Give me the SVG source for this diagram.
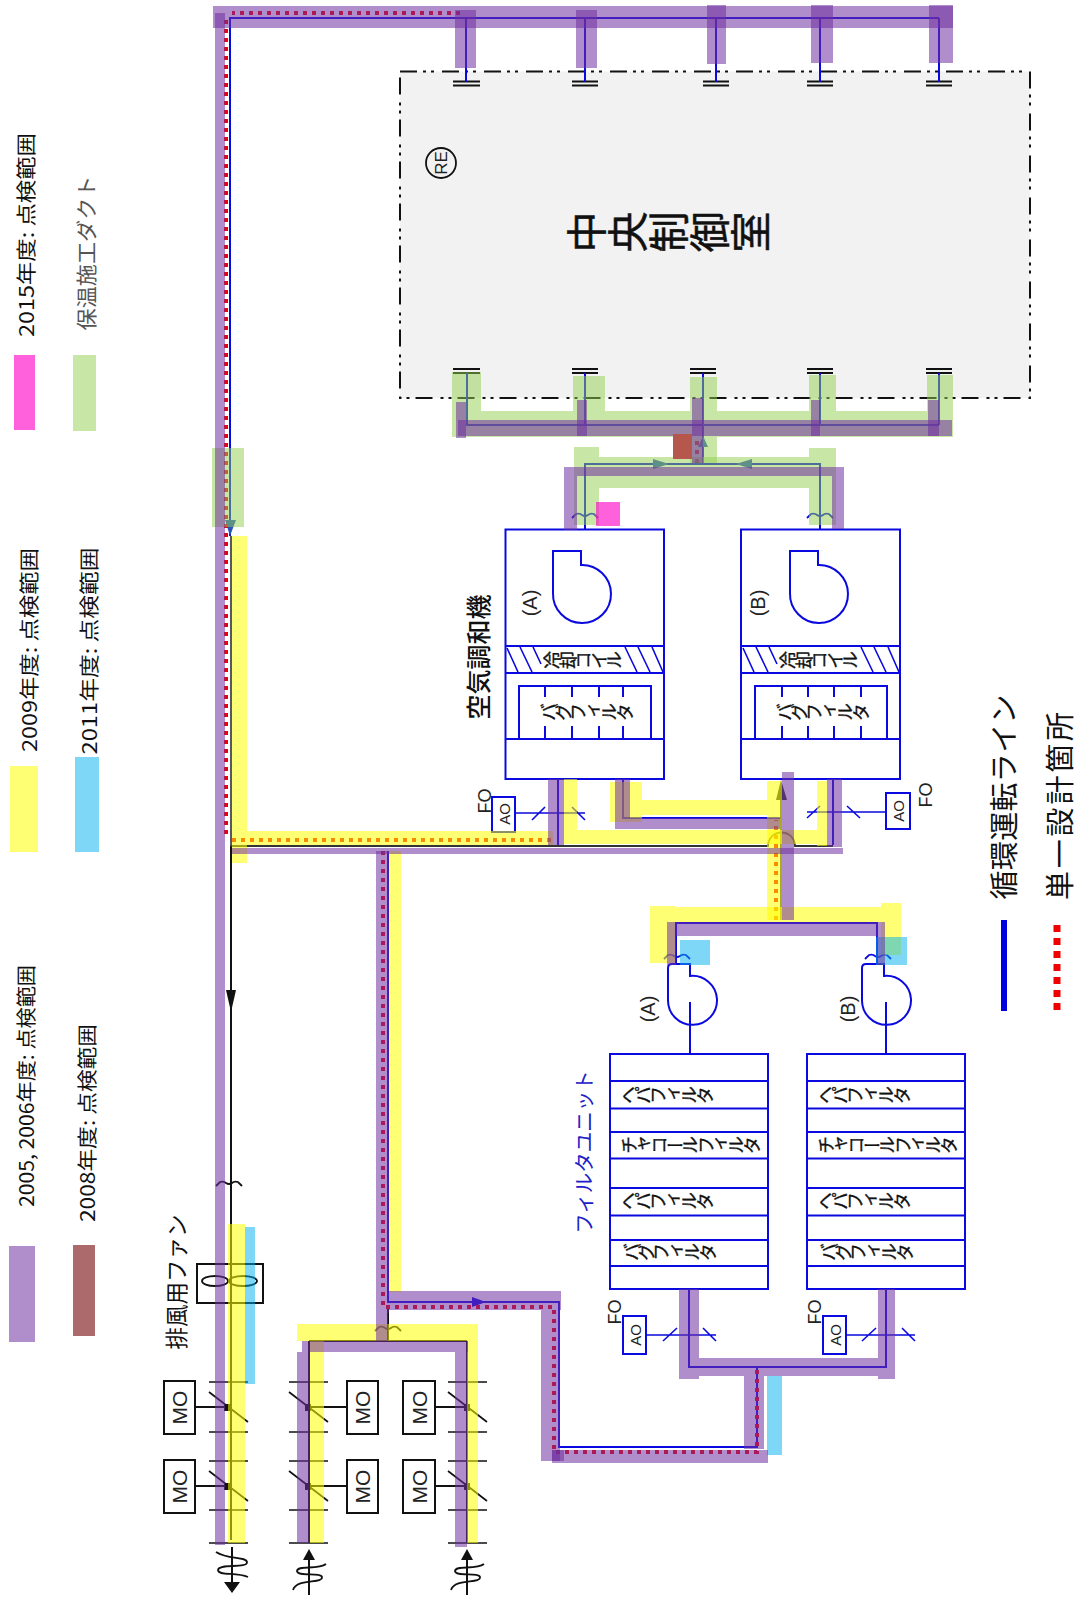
<svg xmlns="http://www.w3.org/2000/svg" width="1078" height="1600" viewBox="0 0 1078 1600">
<style>
text{font-family:"Noto Sans CJK JP","Liberation Sans",sans-serif;text-anchor:middle;dominant-baseline:central;fill:#111}
.lat{font-family:"Liberation Sans","Noto Sans CJK JP",sans-serif;fill:#222}
.v{writing-mode:vertical-rl;font-size:18px;letter-spacing:-2.600px;fill:#111;stroke:#111;stroke-width:.35px}
.b{fill:#fff;stroke:#0a0ae0;stroke-width:2}
.bl{fill:none;stroke:#0a0ae0;stroke-width:2}
.bl1{fill:none;stroke:#0a0ae0;stroke-width:1.6}
.k{fill:none;stroke:#111;stroke-width:2}
.kb{fill:#fff;stroke:#111;stroke-width:2}
.red{fill:none;stroke:#f00000;stroke-width:4;stroke-dasharray:4 5}
.p{fill:#7030a0;fill-opacity:.55}
.y{fill:#ffff00;fill-opacity:.55}
.g{fill:#92d050;fill-opacity:.5}
.c{fill:#00b0f0;fill-opacity:.5}
.br{fill:#b5574c}
.pk{fill:#ff00c8;fill-opacity:.62}
</style>
<defs>
<path id="brk" d="M-13,3 L-9,-1 Q-5,-2 -3,0 Q0,2 3,0 Q5,-2 9,-1 L13,3" fill="none" stroke-width="1.800"/>
<path id="fan" d="M0,42 V0 H28 V14 A29,29 0 1 1 0,42 Z" class="b"/>
<path id="fan2" d="M0,36 V4 Q0,0 4,0 H22 V12 A24.5,24.5 0 1 1 0,36 Z" class="b"/>
<g id="coil" class="bl1">
<path d="M507,648 L518,672 M520,647 L532,672 M533,647 L541,664 M625,647 L637,672 M638,647 L650,672 M652,647 L663,672"/>
</g>
<g id="hepa"><rect x="610" y="1054" width="158" height="235" class="b"/><path class="bl" d="M610,1081H768M610,1108.500H768M610,1132H768M610,1158.500H768M610,1188H768M610,1215.500H768M610,1240H768M610,1266H768"/></g>
<g id="damper" class="k" style="stroke-width:1.700">
<path d="M-19,0H20M-19,50H20M-19,79H20M-19,128H20M-19,161H20M-19,10L20,40M-19,89L20,119"/>
</g>
</defs>

<g id="legend">
<rect class="pk" x="14" y="355" width="21" height="75"/><text transform="translate(25,235) rotate(-90)" font-size="20" textLength="204" lengthAdjust="spacingAndGlyphs">2015年度: 点検範囲</text>
<rect class="g" x="73" y="355" width="23" height="76"/><text transform="translate(85,253) rotate(-90)" font-size="21" textLength="155" lengthAdjust="spacingAndGlyphs" style="fill:#555">保温施工ダクト</text>
<rect class="y" x="10" y="766" width="28" height="86"/><text transform="translate(28,650) rotate(-90)" font-size="20" textLength="204" lengthAdjust="spacingAndGlyphs">2009年度: 点検範囲</text>
<rect class="c" x="75" y="757" width="24" height="95"/><text transform="translate(88,651) rotate(-90)" font-size="20" textLength="207" lengthAdjust="spacingAndGlyphs">2011年度: 点検範囲</text>
<rect class="p" x="9" y="1246" width="26" height="96"/><text transform="translate(25,1086) rotate(-90)" font-size="20" textLength="242" lengthAdjust="spacingAndGlyphs">2005, 2006年度: 点検範囲</text>
<rect x="73" y="1245" width="22" height="91" fill="#ad6a6c"/><text transform="translate(86,1123) rotate(-90)" font-size="20" textLength="198" lengthAdjust="spacingAndGlyphs">2008年度: 点検範囲</text>
<path d="M1004,920V1011" stroke="#0000e0" stroke-width="6"/>
<text transform="translate(1002,797) rotate(-90)" font-size="29" textLength="205">循環運転ライン</text>
<path d="M1057,925V1013" stroke="#f00000" stroke-width="7" stroke-dasharray="7 6"/>
<text transform="translate(1058,806) rotate(-90)" font-size="29" textLength="188">単一設計箇所</text>
</g>

<g id="central-room">
<rect x="400" y="71.500" width="630" height="326.500" fill="#f2f2f2" stroke="#111" stroke-width="2" stroke-dasharray="17 6 3 5 3 8"/>
<circle cx="441" cy="163" r="15" fill="none" stroke="#111" stroke-width="1.800"/>
<text class="lat" transform="translate(441,163) rotate(-90)" font-size="17">RE</text>
<text class="v" transform="translate(668,232) rotate(-90)" style="font-size:41px;letter-spacing:0;stroke-width:.5px">中央制御室</text>
<path class="k" style="stroke-width:1.800" d="M453,81.500H480M453,85.500H480M572,81.500H598M572,85.500H598M703,81.500H729M703,85.500H729M807,81.500H833M807,85.500H833M926,81.500H952M926,85.500H952M453,369H480M453,373H480M572,369H598M572,373H598M690,369H716M690,373H716M807,369H833M807,373H833M926,369H952M926,373H952"/>
</g>

<g id="ahu-a">
<rect class="b" x="505.500" y="529.500" width="158.500" height="249.500"/>
<path class="bl" d="M505.500,646H664M505.500,673H664M505.500,739H664M519,739V686H651V739M545,686V697M572,686V697M599,686V697M623,686V697M545,726V739M572,726V739M599,726V739M623,726V739"/>
<use href="#coil"/>
<use href="#fan" x="553" y="551"/>
<text class="lat" transform="translate(530,603) rotate(-90)" font-size="20">(A)</text>
<text class="v" transform="translate(582,660) rotate(-90)">冷却コイル</text>
<text class="v" transform="translate(585,712) rotate(-90)">バグフィルタ</text>
<text transform="translate(477,657) rotate(-90)" font-size="25" font-weight="500">空気調和機</text>
<rect x="492" y="797" width="23" height="35" class="b"/>
<text class="lat" transform="translate(504,814) rotate(-90)" font-size="15">AO</text>
<text class="lat" transform="translate(485,801) rotate(-90)" font-size="18">FO</text>
</g>

<g id="ahu-b">
<rect class="b" x="741" y="529.500" width="159" height="249.500"/>
<path class="bl" d="M741,646H900M741,673H900M741,739H900M755,739V686H887V739M782,686V697M808,686V697M834,686V697M861,686V697M782,726V739M808,726V739M834,726V739M861,726V739"/>
<use href="#coil" x="236"/>
<use href="#fan" x="790" y="551"/>
<text class="lat" transform="translate(758,603) rotate(-90)" font-size="20">(B)</text>
<text class="v" transform="translate(818,660) rotate(-90)">冷却コイル</text>
<text class="v" transform="translate(821,712) rotate(-90)">バグフィルタ</text>
<rect x="886" y="793" width="24" height="36" class="b"/>
<text class="lat" transform="translate(898,811) rotate(-90)" font-size="15">AO</text>
<text class="lat" transform="translate(926,795) rotate(-90)" font-size="18">FO</text>
</g>

<g id="filter-unit-a">
<use href="#hepa"/>
<use href="#fan2" x="668" y="964"/>
<text class="lat" transform="translate(648,1009) rotate(-90)" font-size="20">(A)</text>
<text class="v" transform="translate(665,1095) rotate(-90)">ヘパフィルタ</text>
<text class="v" transform="translate(689,1145) rotate(-90)">チャコールフィルタ</text>
<text class="v" transform="translate(665,1201) rotate(-90)">ヘパフィルタ</text>
<text class="v" transform="translate(668,1252) rotate(-90)">バグフィルタ</text>
<text transform="translate(583,1152) rotate(-90)" font-size="20.500" style="fill:#2020c8">フィルタユニット</text>
<rect x="623" y="1316" width="23" height="38" class="b"/>
<text class="lat" transform="translate(635,1335) rotate(-90)" font-size="15">AO</text>
<text class="lat" transform="translate(615,1312) rotate(-90)" font-size="18">FO</text>
</g>

<g id="filter-unit-b">
<use href="#hepa" x="197"/>
<use href="#fan2" x="862" y="964"/>
<text class="lat" transform="translate(848,1009) rotate(-90)" font-size="20">(B)</text>
<text class="v" transform="translate(862,1095) rotate(-90)">ヘパフィルタ</text>
<text class="v" transform="translate(886,1145) rotate(-90)">チャコールフィルタ</text>
<text class="v" transform="translate(862,1201) rotate(-90)">ヘパフィルタ</text>
<text class="v" transform="translate(865,1252) rotate(-90)">バグフィルタ</text>
<rect x="823" y="1316" width="23" height="38" class="b"/>
<text class="lat" transform="translate(835,1335) rotate(-90)" font-size="15">AO</text>
<text class="lat" transform="translate(815,1312) rotate(-90)" font-size="18">FO</text>
</g>

<g id="exhaust-fan">
<rect class="kb" x="197" y="1264" width="66" height="39"/>
<ellipse cx="215" cy="1281" rx="13" ry="5" fill="none" stroke="#111" stroke-width="1.800"/>
<ellipse cx="243" cy="1281" rx="14" ry="5" fill="none" stroke="#111" stroke-width="1.800"/>
<text transform="translate(175,1282) rotate(-90)" font-size="22.500">排風用ファン</text>
</g>

<g id="dampers-exhaust">
<use href="#damper" x="228" y="1382"/>
<rect class="kb" x="164" y="1381" width="31" height="53"/><text class="lat" transform="translate(179.500,1407.500) rotate(-90)" font-size="21">MO</text>
<rect class="kb" x="164" y="1460" width="31" height="53"/><text class="lat" transform="translate(179.500,1486.500) rotate(-90)" font-size="21">MO</text>
<path class="k" d="M195,1407H227M195,1486H227"/><rect x="224" y="1404" width="6" height="7" fill="#111"/><rect x="224" y="1483" width="6" height="7" fill="#111"/>
</g>
<g id="dampers-left">
<use href="#damper" x="308" y="1382"/>
<rect class="kb" x="347" y="1381" width="31" height="53"/><text class="lat" transform="translate(362.500,1407.500) rotate(-90)" font-size="21">MO</text>
<rect class="kb" x="347" y="1460" width="31" height="53"/><text class="lat" transform="translate(362.500,1486.500) rotate(-90)" font-size="21">MO</text>
<path class="k" d="M308,1407H347M308,1486H347"/><rect x="305" y="1404" width="6" height="7" fill="#111"/><rect x="305" y="1483" width="6" height="7" fill="#111"/>
</g>
<g id="dampers-right">
<use href="#damper" x="467" y="1382"/>
<rect class="kb" x="403" y="1381" width="32" height="53"/><text class="lat" transform="translate(419,1407.500) rotate(-90)" font-size="21">MO</text>
<rect class="kb" x="403" y="1460" width="32" height="53"/><text class="lat" transform="translate(419,1486.500) rotate(-90)" font-size="21">MO</text>
<path class="k" d="M435,1407H467M435,1486H467"/><rect x="464" y="1404" width="6" height="7" fill="#111"/><rect x="464" y="1483" width="6" height="7" fill="#111"/>
</g>

<g id="connectors">
<path class="bl" d="M230,536V18H939M466,18V82M585,18V82M716,18V82M820,18V82M939,18V82"/>
<path class="bl" d="M467,373V425H939M585,373V425M703,373V464M820,373V425M939,373V425M585,529V464H820V529"/>
<path class="bl" d="M558,779V845M623,779V818H781M833,779V845"/>
<path class="bl" d="M676,964V923H877V964M690,1002V1054M886,1002V1054"/>
<path class="bl" d="M689,1289V1367H886V1289M757,1367V1447H559V1302H388V851"/>
<path class="bl1" d="M515,813H585M532,820L545,807M572,807L585,820M807,812H886M807,818L820,806M847,806L860,818M646,1335H716M663,1341L677,1328M703,1328L716,1341M846,1335H915M862,1341L876,1328M902,1328L915,1341"/>
<use href="#brk" x="585" y="515" stroke="#0a0ae0"/><use href="#brk" x="820" y="515" stroke="#0a0ae0"/>
<use href="#brk" x="677" y="956" stroke="#0a0ae0"/><use href="#brk" x="878" y="956" stroke="#0a0ae0"/>
<path class="k" d="M231,846V1540M232,1547V1585M309,1341V1543M309,1556V1595M467,1341V1543M467,1556V1595M309,1341H467M388,1306V1341"/>
<path d="M231,536V846" fill="none" stroke="#445" stroke-width="1.800"/>
<path d="M231,846H768A13.500,13.500 0 0 1 795,846H833M781,785V920" fill="none" stroke="#333" stroke-width="1.800"/>
<use href="#brk" x="229" y="1183" stroke="#111"/><use href="#brk" x="388" y="1328" stroke="#111"/>
<path d="M226,990H236L231,1012Z" fill="#111"/>
<path d="M224,1582H240L232,1593Z" fill="#111"/><path d="M303,1560H315L309,1549Z" fill="#111"/><path d="M461,1560H473L467,1549Z" fill="#111"/>
<path class="k" style="stroke-width:1.800" d="M216,1552C228,1560 246,1556 247,1562C248,1569 218,1563 218,1570C218,1576 236,1572 248,1577"/>
<path class="k" style="stroke-width:1.800" d="M293,1588C297,1576 323,1582 322,1575C321,1570 297,1575 297,1569C297,1563 318,1568 326,1562" transform="translate(0,2)"/>
<path class="k" style="stroke-width:1.800" d="M451,1588C455,1576 481,1582 480,1575C479,1570 455,1575 455,1569C455,1563 476,1568 484,1562" transform="translate(0,2)"/>
<path d="M225,520H236L230,536Z" fill="#2a50c0"/>
<path d="M653,459L669,464L653,469Z" fill="#2a50c0"/><path d="M752,459L736,464L752,469Z" fill="#2a50c0"/>
<path d="M698,447H708L703,436Z" fill="#2a50c0"/>
<path d="M472,1297L486,1302L472,1307Z" fill="#0a0ae0"/>
<path d="M776,800H787L781,780Z" fill="#333"/>
<path class="red" d="M460,13H232M226,20V838M232,840H555"/>
<path class="red" d="M776,920V820"/>
<path class="red" d="M697,463V438"/>
<path class="red" d="M383,851V1307H554V1452H757V1367"/>
</g>

<g id="highlights">
<rect class="y" x="232" y="536" width="15" height="327"/>
<rect class="y" x="247" y="831" width="306" height="14"/><rect class="y" x="564" y="779" width="13" height="65"/><rect class="y" x="577" y="830" width="240" height="14"/><rect class="y" x="817" y="781" width="10" height="65"/>
<rect class="y" x="610" y="782" width="32" height="40"/><rect class="y" x="642" y="800" width="125" height="15"/>
<rect class="y" x="767" y="781" width="15" height="139"/>
<rect class="y" x="650" y="906" width="25" height="57"/><rect class="y" x="675" y="907" width="206" height="15"/><rect class="y" x="881" y="903" width="20" height="52"/>
<rect class="y" x="389" y="851" width="12" height="441"/>
<rect class="y" x="297" y="1324" width="181" height="17"/>
<rect class="y" x="310" y="1341" width="14" height="202"/><rect class="y" x="467" y="1341" width="11" height="202"/>
<rect class="y" x="228" y="1224" width="17" height="319"/>
<rect class="c" x="680" y="940" width="30" height="25"/><rect class="c" x="876" y="937" width="31" height="28"/>
<rect class="c" x="767" y="1376" width="15" height="79"/><rect class="c" x="245" y="1227" width="10" height="157"/>
<rect class="g" x="452" y="372" width="29" height="65"/><rect class="g" x="573" y="376" width="32" height="61"/><rect class="g" x="690" y="377" width="27" height="86"/><rect class="g" x="809" y="375" width="27" height="62"/><rect class="g" x="927" y="375" width="26" height="62"/>
<rect class="g" x="481" y="411" width="92" height="26"/><rect class="g" x="605" y="411" width="85" height="26"/><rect class="g" x="717" y="411" width="92" height="26"/><rect class="g" x="836" y="411" width="91" height="26"/>
<rect class="g" x="574" y="447" width="25" height="78"/><rect class="g" x="809" y="448" width="27" height="77"/><rect class="g" x="599" y="457" width="210" height="31"/>
<rect class="g" x="212" y="448" width="32" height="79"/>
<rect class="p" x="213" y="6" width="740" height="22"/>
<rect class="p" x="455" y="10" width="21" height="58"/><rect class="p" x="576" y="10" width="21" height="58"/><rect class="p" x="707" y="5" width="19" height="59"/><rect class="p" x="811" y="5" width="22" height="58"/><rect class="p" x="929" y="5" width="24" height="58"/>
<rect class="p" x="215" y="13" width="10" height="1532"/>
<rect class="p" x="458" y="420" width="494" height="16"/>
<rect class="p" x="456" y="402" width="10" height="36"/><rect class="p" x="577" y="400" width="10" height="36"/><rect class="p" x="692" y="398" width="11" height="65"/><rect class="p" x="811" y="400" width="9" height="36"/><rect class="p" x="928" y="400" width="11" height="36"/>
<rect class="p" x="564" y="467" width="280" height="9"/><rect class="p" x="564" y="476" width="13" height="54"/><rect class="p" x="832" y="476" width="12" height="53"/>
<rect class="p" x="548" y="779" width="16" height="66"/><rect class="p" x="827" y="779" width="15" height="68"/>
<rect class="p" x="232" y="848" width="611" height="6"/>
<rect class="p" x="615" y="779" width="15" height="39"/><rect class="p" x="615" y="818" width="165" height="11"/>
<rect class="p" x="782" y="772" width="12" height="148"/>
<rect class="p" x="667" y="922" width="218" height="14"/><rect class="p" x="667" y="936" width="9" height="29"/><rect class="p" x="877" y="936" width="8" height="29"/>
<rect class="p" x="376" y="851" width="13" height="462"/><rect class="p" x="389" y="1291" width="172" height="19"/><rect class="p" x="541" y="1310" width="19" height="151"/>
<rect class="p" x="376" y="1313" width="12" height="28"/>
<rect class="p" x="302" y="1341" width="166" height="11"/><rect class="p" x="297" y="1352" width="13" height="191"/><rect class="p" x="455" y="1352" width="12" height="195"/>
<rect class="p" x="679" y="1289" width="20" height="90"/><rect class="p" x="878" y="1289" width="17" height="90"/><rect class="p" x="699" y="1358" width="179" height="18"/>
<rect class="p" x="744" y="1376" width="20" height="73"/><rect class="p" x="552" y="1450" width="216" height="13"/><rect class="p" x="552" y="1450" width="12" height="11"/>
<rect class="br" x="673" y="434" width="19" height="25"/>
<rect class="pk" x="596" y="502" width="24" height="24"/>
</g>
</svg>
